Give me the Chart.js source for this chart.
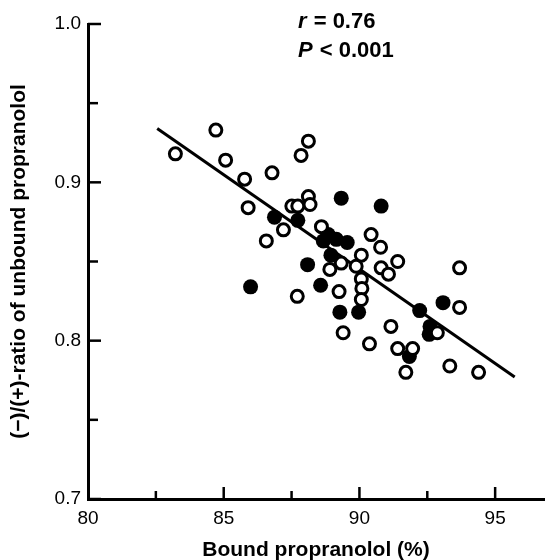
<!DOCTYPE html>
<html>
<head>
<meta charset="utf-8">
<script src="https://cdn.jsdelivr.net/npm/chart.js@4/dist/chart.umd.min.js"></script>
<style>
  html, body { margin: 0; padding: 0; background: #fff; }
  .chart-box { position: relative; width: 553px; height: 560px; }
</style>
</head>
<body>
<div class="chart-box"><canvas id="ratioChart"></canvas></div>
<script>
// open circles
const openX = [83.22, 84.71, 85.07, 85.77, 85.90, 86.78, 88.12, 87.85, 87.51, 87.73,
  88.12, 88.18, 87.20, 86.57, 88.60, 87.71, 88.91, 89.33, 89.25, 89.40,
  89.88, 90.07, 90.07, 90.09, 90.07, 90.43, 90.78, 90.80, 91.07, 91.41,
  90.37, 91.16, 91.41, 91.96, 91.71, 92.87, 93.69, 93.69, 93.33, 94.39];
const openY = [0.918, 0.933, 0.914, 0.902, 0.884, 0.906, 0.926, 0.917, 0.885, 0.885,
  0.891, 0.886, 0.870, 0.863, 0.872, 0.828, 0.845, 0.849, 0.831, 0.805,
  0.847, 0.854, 0.839, 0.833, 0.826, 0.867, 0.859, 0.846, 0.842, 0.850,
  0.798, 0.809, 0.795, 0.795, 0.780, 0.805, 0.846, 0.821, 0.784, 0.780];

// filled circles
const filledX = [86.87, 87.73, 89.33, 90.80, 88.09, 85.99, 88.57, 89.28, 89.97, 92.22,
  93.08, 92.60, 92.57, 91.84, 88.85, 89.15, 89.55, 88.95, 88.67];
const filledY = [0.878, 0.876, 0.890, 0.885, 0.848, 0.834, 0.835, 0.818, 0.818, 0.819,
  0.824, 0.809, 0.804, 0.790, 0.867, 0.864, 0.862, 0.854, 0.863];

// regression line
const fitX = [82.55, 95.72];
const fitY = [0.934, 0.777];

const xTicks = [80, 85, 90, 95];
const xMinorTicks = [82.5, 87.5, 92.5];
const yTicks = [0.7, 0.8, 0.9, 1.0];
const yMinorTicks = [0.75, 0.85, 0.95];

const statLines = [
  { italic: 'r', rest: ' = 0.76' },
  { italic: 'P', rest: ' < 0.001' }
];

const FONT = '"Liberation Sans", Arial, sans-serif';

function toPoints(xs, ys) {
  return xs.map(function (x, i) { return { x: x, y: ys[i] }; });
}

const inwardTicks = {
  id: 'inwardTicks',
  afterDatasetsDraw: function (chart) {
    const ctx = chart.ctx;
    const xs = chart.scales.x;
    const ys = chart.scales.y;
    const area = chart.chartArea;
    ctx.save();
    ctx.strokeStyle = '#000';
    ctx.lineWidth = 2.5;
    function xTick(v, len) {
      const px = xs.getPixelForValue(v);
      ctx.beginPath();
      ctx.moveTo(px, area.bottom);
      ctx.lineTo(px, area.bottom - len);
      ctx.stroke();
    }
    function yTick(v, len) {
      const py = ys.getPixelForValue(v);
      ctx.beginPath();
      ctx.moveTo(area.left, py);
      ctx.lineTo(area.left + len, py);
      ctx.stroke();
    }
    xTicks.slice(1).forEach(function (v) { xTick(v, 12); });
    xMinorTicks.forEach(function (v) { xTick(v, 8); });
    yTicks.forEach(function (v) { yTick(v, 13); });
    yMinorTicks.forEach(function (v) { yTick(v, 10); });

    // r and P annotation
    ctx.fillStyle = '#000';
    ctx.textBaseline = 'alphabetic';
    statLines.forEach(function (line, i) {
      const x = 298;
      const y = 28 + i * 29;
      ctx.font = 'italic bold 22px ' + FONT;
      ctx.fillText(line.italic, x, y);
      const w = ctx.measureText(line.italic).width;
      ctx.font = 'bold 22px ' + FONT;
      ctx.fillText(line.rest, x + w + 1, y);
    });
    ctx.restore();
  }
};

const chart = new Chart(document.getElementById('ratioChart'), {
  type: 'scatter',
  data: {
    datasets: [
      {
        label: 'open',
        data: toPoints(openX, openY),
        pointStyle: 'circle',
        pointRadius: 6,
        pointBorderWidth: 3,
        pointBorderColor: '#000',
        pointBackgroundColor: '#fff',
        order: 1
      },
      {
        label: 'filled',
        data: toPoints(filledX, filledY),
        pointStyle: 'circle',
        pointRadius: 7.5,
        pointBorderWidth: 0,
        pointBackgroundColor: '#000',
        order: 2
      },
      {
        type: 'line',
        label: 'fit',
        data: toPoints(fitX, fitY),
        borderColor: '#000',
        borderWidth: 3,
        pointRadius: 0,
        fill: false,
        order: 3
      }
    ]
  },
  options: {
    responsive: true,
    maintainAspectRatio: false,
    animation: false,
    events: [],
    layout: { padding: { top: 24, right: 3, left: 0, bottom: 0 } },
    plugins: {
      legend: { display: false },
      tooltip: { enabled: false }
    },
    scales: {
      x: {
        type: 'linear',
        min: 80,
        max: 96.8,
        afterBuildTicks: function (scale) {
          scale.ticks = xTicks.map(function (v) { return { value: v }; });
        },
        afterFit: function (scale) { scale.height = 61; },
        grid: { display: false, drawTicks: false },
        border: { display: true, color: '#000', width: 3 },
        ticks: {
          color: '#000',
          padding: 8,
          font: { family: FONT, size: 19 },
          callback: function (v) { return String(v); }
        },
        title: {
          display: true,
          text: 'Bound propranolol (%)',
          color: '#000',
          padding: { top: 0, bottom: -3 },
          font: { family: FONT, size: 21, weight: 'bold' }
        }
      },
      y: {
        type: 'linear',
        min: 0.7,
        max: 1.0,
        afterBuildTicks: function (scale) {
          scale.ticks = yTicks.map(function (v) { return { value: v }; });
        },
        afterFit: function (scale) { scale.width = 88; },
        grid: { display: false, drawTicks: false },
        border: { display: true, color: '#000', width: 3 },
        ticks: {
          color: '#000',
          padding: 7,
          font: { family: FONT, size: 19 },
          callback: function (v) { return Number(v).toFixed(1); }
        },
        title: {
          display: true,
          text: '(\u2212)/(+)-ratio of unbound propranolol',
          color: '#000',
          padding: { top: 7, bottom: 0 },
          font: { family: FONT, size: 21, weight: 'bold' }
        }
      }
    }
  },
  plugins: [inwardTicks]
});
</script>
</body>
</html>
